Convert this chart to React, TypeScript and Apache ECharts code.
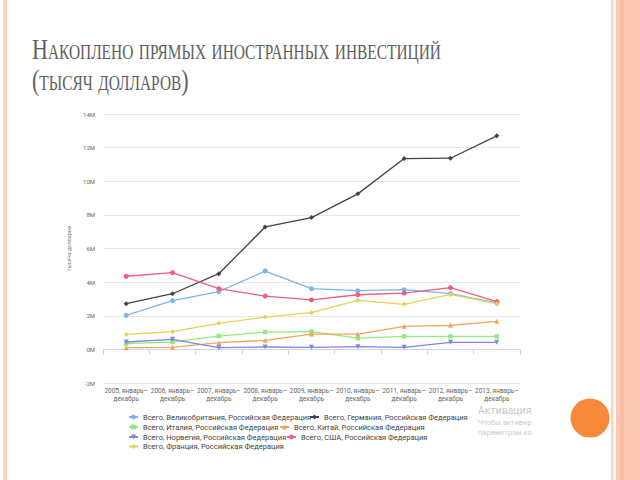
import React, { useEffect, useRef } from "react";
import * as echarts from "echarts";

// ---- data (values in millions) ----
const years = ["2005", "2006", "2007", "2008", "2009", "2010", "2011", "2012", "2013"];
const categories = years.map((y) => `${y}, январь–декабрь`);
const yTickMin = -2;
const yTickMax = 14;
const yTickStep = 2;

const seriesNames = [
  "Всего, Великобритания, Российская Федерация",
  "Всего, Германия, Российская Федерация",
  "Всего, Италия, Российская Федерация",
  "Всего, Китай, Российская Федерация",
  "Всего, Норвегия, Российская Федерация",
  "Всего, США, Российская Федерация",
  "Всего, Франция, Российская Федерация",
];
const ukValues = [2.02, 2.9, 3.43, 4.66, 3.61, 3.49, 3.55, 3.31, 2.76];
const germanyValues = [2.72, 3.31, 4.5, 7.28, 7.84, 9.25, 11.35, 11.37, 12.7];
const italyValues = [0.34, 0.44, 0.79, 1.03, 1.05, 0.67, 0.77, 0.77, 0.77];
const chinaValues = [0.1, 0.12, 0.4, 0.54, 0.91, 0.91, 1.37, 1.43, 1.67];
const norwayValues = [0.44, 0.6, 0.1, 0.14, 0.12, 0.16, 0.12, 0.42, 0.42];
const usaValues = [4.35, 4.56, 3.61, 3.17, 2.94, 3.25, 3.35, 3.67, 2.84];
const franceValues = [0.89, 1.05, 1.55, 1.92, 2.18, 2.92, 2.68, 3.27, 2.72];
const allValues = [ukValues, germanyValues, italyValues, chinaValues, norwayValues, usaValues, franceValues];

const titleText = "Накоплено прямых иностранных инвестиций\n(тысяч долларов)";
const yAxisName = "тысяча долларов";
const watermarkLines = ["Активация", "Чтобы активир", "параметрам ко"];

// ---- styles / layout ----
const colors = ["#7cb5ec", "#434348", "#90ed7d", "#f7a35c", "#8085e9", "#f15c80", "#e4d354"];
const symbols = ["circle", "diamond", "rect", "triangle", "path://M0,0 L10,0 L5,9 Z", "circle", "diamond"];
const symbolSizes = [5, 5, 4.5, 5, 5, 5, 5];
const legendPos = [
  [128, 413],
  [309, 413],
  [128, 423],
  [279, 423],
  [128, 433],
  [286, 433],
  [128, 442.5],
];

export default function App() {
  const ref = useRef<HTMLDivElement>(null);
  useEffect(() => {
    if (!ref.current) return;
    const chart = echarts.init(ref.current, undefined, { renderer: "svg" });
    const option: any = {
      animation: false,
      backgroundColor: "#ffffff",
      legend: seriesNames.map((name, i) => ({
        data: [name],
        left: legendPos[i][0],
        top: legendPos[i][1],
        padding: 0,
        itemWidth: 9,
        itemHeight: 6,
        textStyle: { fontSize: 7.5, color: "#444", fontFamily: "Roboto" },
      })),
      grid: { left: 103, right: 120, top: 114, bottom: 97, containLabel: false },
      xAxis: {
        type: "category",
        data: categories,
        boundaryGap: true,
        axisLine: { lineStyle: { color: "#ccd6eb", width: 1 } },
        axisTick: { show: true, length: 5, lineStyle: { color: "#ccd6eb" } },
        axisLabel: {
          fontSize: 6.5,
          lineHeight: 8,
          color: "#666",
          margin: 4,
          fontFamily: "Roboto",
          interval: 0,
          formatter: (v: string) => v.replace("–", "–\n"),
        },
      },
      yAxis: {
        type: "value",
        min: yTickMin,
        max: yTickMax,
        interval: yTickStep,
        name: yAxisName,
        nameLocation: "middle",
        nameRotate: 90,
        nameGap: 26,
        nameTextStyle: { fontSize: 5.5, color: "#777", fontFamily: "Roboto" },
        axisLine: { show: false },
        axisTick: { show: false },
        axisLabel: {
          fontSize: 6,
          color: "#666",
          margin: 8,
          fontFamily: "Roboto",
          formatter: (v: number) => `${v}M`,
        },
        splitLine: { lineStyle: { color: "#e6e6e6", width: 1 } },
      },
      series: seriesNames.map((name, i) => ({
        name,
        type: "line",
        data: allValues[i],
        symbol: symbols[i],
        symbolSize: symbolSizes[i],
        showSymbol: true,
        lineStyle: { width: 1.3, color: colors[i] },
        itemStyle: { color: colors[i] },
        z: 2 + i,
      })),
      graphic: [
        { type: "rect", shape: { x: 3, y: 0, width: 4, height: 480 }, style: { fill: "#fbd6c8" }, silent: true },
        { type: "rect", shape: { x: 611, y: 0, width: 2.5, height: 480 }, style: { fill: "#f9d2c3" }, silent: true },
        { type: "rect", shape: { x: 616, y: 0, width: 24, height: 480 }, style: { fill: "#fcc8b4" }, silent: true },
        { type: "rect", shape: { x: 620, y: 0, width: 4, height: 480 }, style: { fill: "#f8bba4" }, silent: true },
        { type: "circle", shape: { cx: 590, cy: 418, r: 19.5 }, style: { fill: "#f7893a" }, silent: true },
        {
          type: "text",
          x: 32,
          y: 34,
          scaleX: 0.76,
          silent: true,
          style: {
            text: titleText,
            fontFamily: "Liberation Serif",
            fontSize: 29,
            lineHeight: 31,
            fill: "#5e5e5e",
            textAlign: "left",
            textVerticalAlign: "top",
          },
        },
        {
          type: "text",
          left: 478,
          top: 405,
          style: { text: watermarkLines[0], fontSize: 10.5, fill: "#c8c8c8", fontFamily: "Roboto" },
          silent: true,
        },
        {
          type: "text",
          left: 478,
          top: 418,
          style: { text: watermarkLines[1], fontSize: 7.5, fill: "#cccccc", fontFamily: "Roboto" },
          silent: true,
        },
        {
          type: "text",
          left: 478,
          top: 428,
          style: { text: watermarkLines[2], fontSize: 7.5, fill: "#cccccc", fontFamily: "Roboto" },
          silent: true,
        },
      ],
    };
    chart.setOption(option);
    return () => chart.dispose();
  }, []);
  return (
    <>
      <style>{`text[style*="Serif"]{font-variant:small-caps !important;font-variant-caps:small-caps !important;}`}</style>
      <div
        ref={ref}
        style={{ position: "fixed", left: 0, top: 0, width: 640, height: 480 }}
      />
    </>
  );
}
